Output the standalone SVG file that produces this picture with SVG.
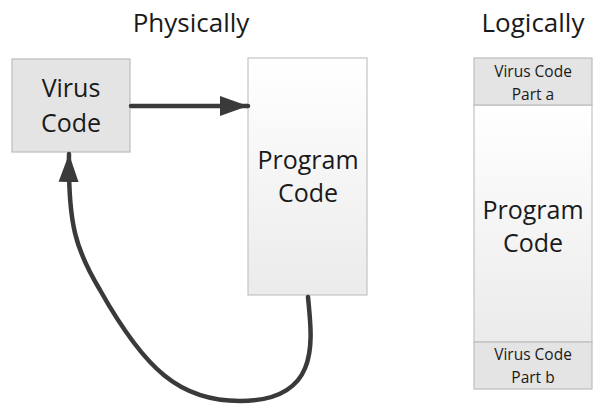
<svg xmlns="http://www.w3.org/2000/svg" width="593" height="404" viewBox="0 0 593 404">
  <defs>
    <linearGradient id="paleFill" x1="0" y1="0" x2="0" y2="1">
      <stop offset="0" stop-color="#ffffff"/>
      <stop offset="1" stop-color="#ebebeb"/>
    </linearGradient>
    <marker id="head" markerUnits="userSpaceOnUse" markerWidth="30" markerHeight="24" refX="28" refY="12" orient="auto">
      <path d="M0,2 L28,12 L0,22 Z" fill="#3a3a3a"/>
    </marker>
    <style>
      .title { font-family: "Open Sans", "Liberation Sans", sans-serif; font-size: 26px; fill: #1a1a1a; text-anchor: middle; }
      .big { font-family: "Open Sans", "Liberation Sans", sans-serif; font-size: 25px; fill: #1a1a1a; text-anchor: middle; }
      .small { font-family: "Open Sans", "Liberation Sans", sans-serif; font-size: 15.5px; fill: #1a1a1a; text-anchor: middle; }
      .grey { fill: #e4e4e4; stroke: #bdbdbd; stroke-width: 1.2; }
      .pale { fill: url(#paleFill); stroke: #c4c4c4; stroke-width: 1.2; }
      .conn { fill: none; stroke: #3a3a3a; stroke-width: 4.5; stroke-linecap: round; }
    </style>
  </defs>

  <!-- headings -->
  <text class="title" x="191" y="32">Physically</text>
  <text class="title" x="533" y="32">Logically</text>

  <!-- physical layout -->
  <g id="virus-code">
    <rect class="grey" x="12" y="59" width="118" height="93"/>
    <text class="big" x="71" y="97">Virus</text>
    <text class="big" x="71" y="132">Code</text>
  </g>

  <g id="program-code">
    <rect class="pale" x="248" y="58" width="119" height="237"/>
    <text class="big" x="308" y="169">Program</text>
    <text class="big" x="308" y="202">Code</text>
  </g>

  <!-- logical layout -->
  <g id="logical-view">
    <rect class="pale" x="474" y="105" width="118" height="237"/>
    <rect class="grey" x="474" y="58" width="118" height="47"/>
    <rect class="grey" x="474" y="342" width="118" height="47"/>
    <text class="small" x="533" y="77">Virus Code</text>
    <text class="small" x="533" y="100">Part a</text>
    <text class="big" x="533" y="219">Program</text>
    <text class="big" x="533" y="252">Code</text>
    <text class="small" x="533" y="360">Virus Code</text>
    <text class="small" x="533" y="383">Part b</text>
  </g>

  <!-- connectors -->
  <g id="connectors">
    <path class="conn" d="M131,106 L248,106" marker-end="url(#head)"/>
    <path class="conn" d="M308,297 C312,340 322,401 240,401 C180,401 145,370 100,290 C76,250 68,225 69,154" marker-end="url(#head)"/>
  </g>
</svg>
